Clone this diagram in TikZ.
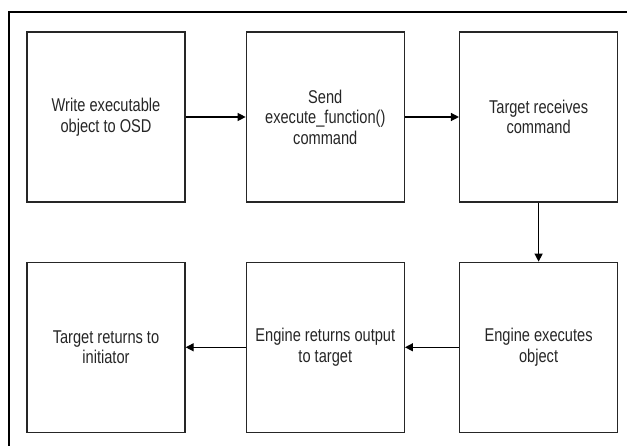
\documentclass[tikz,border=0pt]{standalone}
\usepackage{fontspec}
\setmainfont[FakeStretch=0.79]{Liberation Sans}
\usepackage{tikz}
\usetikzlibrary{arrows.meta,positioning}

\begin{document}
\begin{tikzpicture}[x=1pt,y=1pt,node distance=59pt and 57pt,
    box/.style={draw=black!85,line width=1.3pt,minimum width=158pt,minimum height=170pt,
      align=center,font=\fontsize{18.5}{20.5}\selectfont,text=black!85},
    arrow/.style={-{Triangle[length=8pt,width=8pt]},line width=1.3pt}]
  \useasboundingbox (0,0) rectangle (627,446);
  % outer frame (cut off at right and bottom)
  \draw[line width=1.8pt] (9,0) -- (9,434) -- (627,434);

  \node[box] (write) at (106,329) {Write executable\\ object to OSD};
  \node[box,right=60pt of write] (send) {Send\\ execute\_function()\\ command};
  \node[box,right=54pt of send] (receive) {Target receives\\ command};
  \node[box,below=of receive] (exec) {Engine executes\\ object};
  \node[box,below=of send] (output) {Engine returns output\\ to target};
  \node[box,below=of write] (initiator) {Target returns to\\ initiator};

  \draw[arrow] (write) -- (send);
  \draw[arrow] (send) -- (receive);
  \draw[arrow] (receive) -- (exec);
  \draw[arrow] (exec) -- (output);
  \draw[arrow] (output) -- (initiator);
\end{tikzpicture}
\end{document}
